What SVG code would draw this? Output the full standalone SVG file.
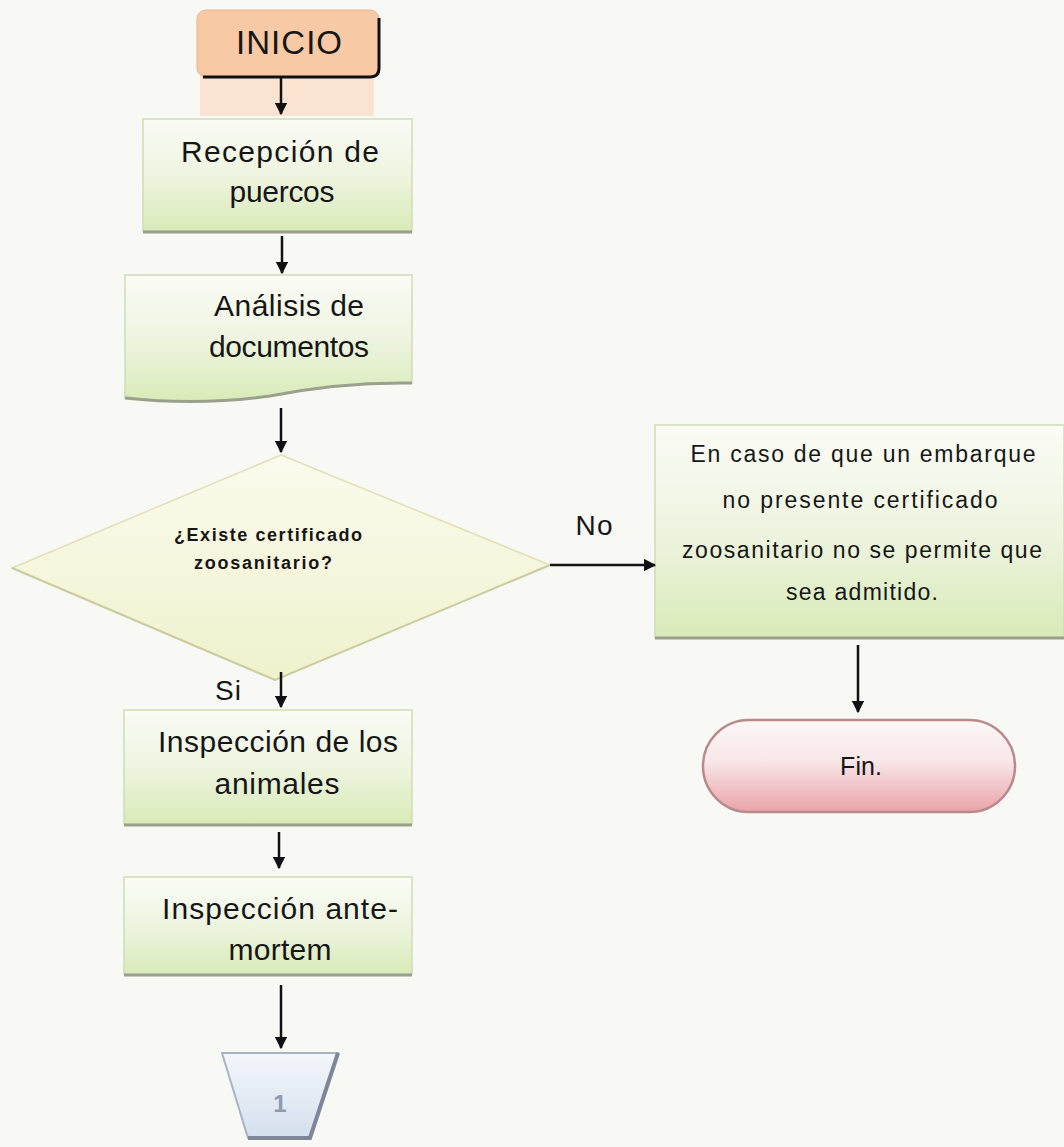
<svg xmlns="http://www.w3.org/2000/svg" width="1064" height="1147" viewBox="0 0 1064 1147">
<defs>
<linearGradient id="gGreen" x1="0" y1="0" x2="0" y2="1">
<stop offset="0" stop-color="#fbfcf6"/><stop offset="0.5" stop-color="#eef4e0"/><stop offset="1" stop-color="#d9ebb8"/>
</linearGradient>
<linearGradient id="gDiam" x1="0" y1="0" x2="0" y2="1">
<stop offset="0" stop-color="#fbfbee"/><stop offset="1" stop-color="#f0f1cc"/>
</linearGradient>
<linearGradient id="gPink" x1="0" y1="0" x2="0" y2="1">
<stop offset="0" stop-color="#fdf7f7"/><stop offset="0.45" stop-color="#f8e6e8"/><stop offset="1" stop-color="#eaa3a8"/>
</linearGradient>
<linearGradient id="gTrap" x1="0" y1="0" x2="0" y2="1">
<stop offset="0" stop-color="#f4f7fb"/><stop offset="1" stop-color="#d5e0ee"/>
</linearGradient>
<marker id="arr" viewBox="0 0 10 10" refX="9" refY="5" markerWidth="5" markerHeight="5" orient="auto">
<path d="M0,0 L10,5 L0,10 z" fill="#111"/>
</marker>
</defs>
<style>
.box{fill:url(#gGreen);stroke:#cfdcb8;stroke-width:1.5}
.sh{fill:none;stroke:#9aa08c;stroke-width:3}
.t{font-family:"Liberation Sans",Arial,sans-serif;fill:#161616;text-anchor:middle}
.big{font-size:30px}
.mid{font-size:23px}
.conn line{stroke:#111;stroke-width:2.5;marker-end:url(#arr)}
</style>
<rect width="1064" height="1147" fill="#f8f8f5"/>

<g id="inicio">
<rect x="200" y="76" width="174" height="40" fill="#fbe3d2"/>
<rect x="197" y="10" width="182" height="67" rx="9" fill="#f7c9a5" stroke="#e8b590" stroke-width="1"/>
<path d="M379,18 L379,68 Q379,77 370,77 L203,77" fill="none" stroke="#111" stroke-width="3"/>
<text class="t" x="289" y="54" font-size="33" textLength="106">INICIO</text>
</g>

<g id="recepcion">
<rect class="box" x="143" y="119" width="269" height="112"/>
<line class="sh" x1="143" y1="232" x2="412" y2="232"/>
<text class="t big" x="280" y="162" textLength="198">Recepción de</text>
<text class="t big" x="282" y="202" textLength="105">puercos</text>
</g>

<g id="analisis">
<path class="box" d="M125,275 L412,275 L412,383 Q340,382 270,396 Q200,406 125,398 Z"/>
<path class="sh" d="M412,383 Q340,382 270,396 Q200,406 125,398"/>
<text class="t big" x="289" y="316" textLength="150">Análisis de</text>
<text class="t big" x="289" y="357" textLength="160">documentos</text>
</g>

<g id="decision">
<polygon points="281,455 550,565 275,680 12,568" fill="url(#gDiam)" stroke="#dfe1b4" stroke-width="1.5"/>
<path d="M550,565 L275,680 L12,568" fill="none" stroke="#c9cda0" stroke-width="2"/>
<text class="t" x="268" y="541" font-size="18" font-weight="bold" textLength="188">¿Existe certificado</text>
<text class="t" x="263" y="569" font-size="18" font-weight="bold" textLength="138">zoosanitario?</text>
</g>

<g id="rechazo">
<rect class="box" x="655" y="425" width="409" height="213"/>
<line class="sh" x1="655" y1="638" x2="1064" y2="638"/>
<text class="t mid" x="863" y="462" textLength="345">En caso de que un embarque</text>
<text class="t mid" x="860" y="508" textLength="275">no presente certificado</text>
<text class="t mid" x="862" y="558" textLength="360">zoosanitario no se permite que</text>
<text class="t mid" x="862" y="600" textLength="152">sea admitido.</text>
</g>

<g id="fin">
<rect x="703" y="720" width="312" height="92" rx="46" fill="url(#gPink)" stroke="#b88a8c" stroke-width="2.5"/>
<text class="t" x="861" y="775" font-size="25" textLength="42">Fin.</text>
</g>

<g id="inspeccion">
<rect class="box" x="124" y="710" width="288" height="114"/>
<line class="sh" x1="124" y1="825" x2="412" y2="825"/>
<text class="t big" x="278" y="752" textLength="240">Inspección de los</text>
<text class="t big" x="277" y="794" textLength="125">animales</text>
</g>

<g id="antemortem">
<rect class="box" x="124" y="877" width="288" height="97"/>
<line class="sh" x1="124" y1="975" x2="412" y2="975"/>
<text class="t big" x="280" y="919" textLength="236">Inspección ante-</text>
<text class="t big" x="280" y="960" textLength="103">mortem</text>
</g>

<g id="conector1">
<polygon points="222,1053 338,1053 310,1138 248,1138" fill="url(#gTrap)" stroke="#a9b3c3" stroke-width="2"/>
<path d="M338,1053 L310,1138 L248,1138" fill="none" stroke="#7d8799" stroke-width="4"/>
<text class="t" x="280" y="1112" font-size="24" font-weight="bold" style="fill:#8e9bb0">1</text>
</g>

<g class="conn">
<line x1="281" y1="78" x2="281" y2="114"/>
<line x1="282" y1="236" x2="282" y2="273"/>
<line x1="281" y1="408" x2="281" y2="452"/>
<line x1="550" y1="565" x2="655" y2="565"/>
<line x1="281" y1="672" x2="281" y2="707"/>
<line x1="279" y1="832" x2="279" y2="868"/>
<line x1="281" y1="985" x2="281" y2="1048"/>
<line x1="858" y1="645" x2="858" y2="712"/>
</g>
<text class="t" x="594" y="535" font-size="28" textLength="37">No</text>
<text class="t" x="228" y="700" font-size="28" textLength="26">Si</text>
</svg>
